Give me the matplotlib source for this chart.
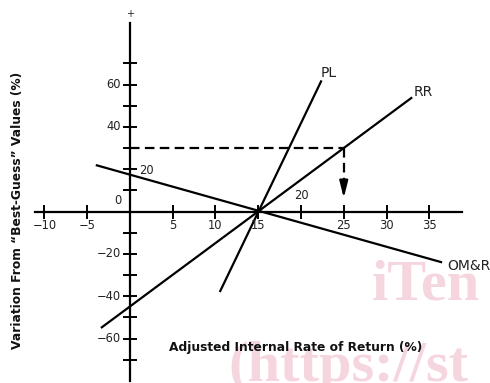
import numpy as np
import matplotlib.pyplot as plt

# sensitivity lines (IRR %, variation %)
irr_pl = [10.5, 22.4]
var_pl = [-38, 62]
irr_rr = [-3.4, 33]
var_rr = [-55, 54]
irr_omr = [-4, 36.5]
var_omr = [22, -24]

x_ticks = [-10, -5, 5, 10, 15, 20, 25, 30, 35]
x_labels_below = [-10, -5, 5, 10, 15, 25, 30, 35]
y_ticks = [-70, -60, -50, -40, -30, -20, -10, 10, 20, 30, 40, 50, 60, 70]
y_labels_left = [-60, -40, -20, 40, 60]

best_irr = 25
best_var = 30

fig = plt.figure(figsize=(4.9, 3.83), dpi=100)
ax = fig.add_axes([0, 0, 1, 1])
ax.set_xlim(-15.2, 42.1)
ax.set_ylim(-81, 100)
ax.patch.set_alpha(0)

# axes through the origin
for s in ['top', 'right']:
    ax.spines[s].set_visible(False)
ax.spines['left'].set_position(('data', 0))
ax.spines['bottom'].set_position(('data', 0))
ax.spines['left'].set_bounds(-80, 89)
ax.spines['bottom'].set_bounds(-11.1, 38.8)
for s in ['left', 'bottom']:
    ax.spines[s].set_linewidth(1.6)
ax.set_xticks(x_ticks)
ax.set_yticks(y_ticks)
ax.set_xticklabels([])
ax.set_yticklabels([])
ax.tick_params(direction='inout', length=9.5, width=1.4)

fs = 8.3
for v in x_labels_below:
    lab = str(v).replace('-', '\u2212')
    ax.text(v, -6.4, lab, ha='center', va='center', fontsize=fs, color='#222222')
ax.text(20, 7.8, '20', ha='center', va='center', fontsize=fs, color='#222222')
for v in y_labels_left:
    lab = str(v).replace('-', '\u2212')
    ax.text(-1.1, v, lab, ha='right', va='center', fontsize=fs, color='#222222')
ax.text(1.1, 19.6, '20', ha='left', va='center', fontsize=fs, color='#222222')
ax.text(-1.4, 5.4, '0', ha='center', va='center', fontsize=fs, color='#222222')
ax.text(0, 93.3, '+', ha='center', va='center', fontsize=7, color='#222222')

# the three lines
lw = 1.6
ax.plot(irr_pl, var_pl, color='black', lw=lw, solid_capstyle='butt')
ax.plot(irr_rr, var_rr, color='black', lw=lw, solid_capstyle='butt')
ax.plot(irr_omr, var_omr, color='black', lw=lw, solid_capstyle='butt')
ax.text(irr_pl[1] - 0.1, var_pl[1] + 3.5, 'PL', fontsize=10, ha='left', va='center', color='#222222')
ax.text(irr_rr[1] + 0.2, var_rr[1] + 2.3, 'RR', fontsize=10, ha='left', va='center', color='#222222')
ax.text(irr_omr[1] + 0.6, var_omr[1] - 1.8, 'OM&R', fontsize=10, ha='left', va='center', color='#222222')

# dashed guide lines and arrow
ax.plot([0, best_irr], [best_var, best_var], color='black', lw=lw, dashes=(4.3, 2.4))
ax.plot([best_irr, best_irr], [best_var, 15], color='black', lw=lw, dashes=(4.3, 2.4))
ax.annotate('', xy=(best_irr, 6.4), xytext=(best_irr, 15),
            arrowprops=dict(arrowstyle='-|>,head_length=1.0,head_width=0.25',
                            color='black', lw=lw, shrinkA=0, shrinkB=0))

# axis titles
fig.text(296 / 490, 1 - 348 / 383, 'Adjusted Internal Rate of Return (%)',
         ha='center', va='center', fontsize=8.8, fontweight='bold', color='#111111')
fig.text(18 / 490, 1 - 210 / 383, 'Variation From \u201cBest-Guess\u201d Values (%)',
         ha='center', va='center', rotation=90, fontsize=8.8, fontweight='bold', color='#111111')

# watermark
wm = '#f6d6de'
fig.text(372 / 490, 1 - 300 / 383, 'iTen', fontsize=42, family='Liberation Serif',
         fontweight='bold', color=wm, ha='left', va='baseline', zorder=0)
fig.text(228 / 490, 1 - 381 / 383, '(https://st', fontsize=42, family='Liberation Serif',
         fontweight='bold', color=wm, ha='left', va='baseline', zorder=0)

fig.savefig('out.png', dpi=100)
